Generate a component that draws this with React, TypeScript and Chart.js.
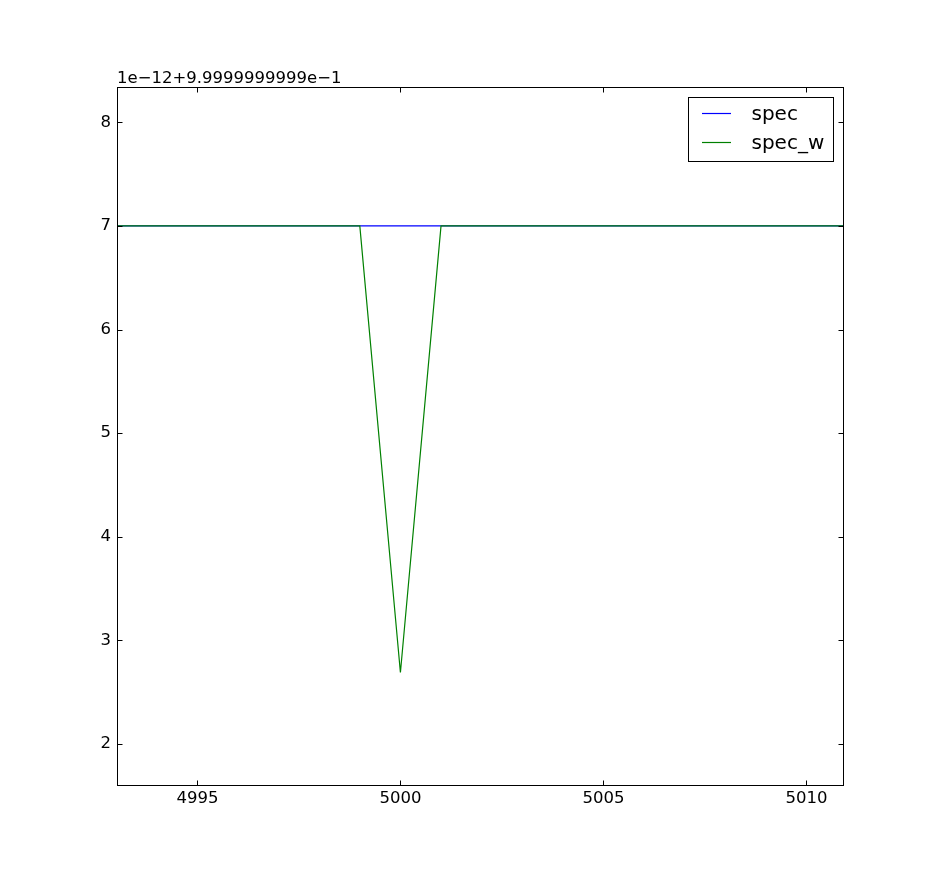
import React, { useEffect, useRef } from "react";
import { Chart, registerables } from "chart.js";

Chart.register(...registerables);

// x positions (wavelength-like samples)
const xValues = [4992, 4993, 4994, 4995, 4996, 4997, 4998, 4999, 5000, 5001, 5002, 5003, 5004, 5005, 5006, 5007, 5008, 5009, 5010, 5011, 5012];
// values shown relative to offset 9.9999999999e-1, in units of 1e-12
const specValues = [7, 7, 7, 7, 7, 7, 7, 7, 7, 7, 7, 7, 7, 7, 7, 7, 7, 7, 7, 7, 7];
const specWValues = [7, 7, 7, 7, 7, 7, 7, 7, 2.69, 7, 7, 7, 7, 7, 7, 7, 7, 7, 7, 7, 7];
const xTicks = [4995, 5000, 5005, 5010];
const yTicks = [2, 3, 4, 5, 6, 7, 8];
const xMin = 4993.02;
const xMax = 5010.9;
const yMin = 1.604;
const yMax = 8.341;
const offsetLabel = "1e\u221212+9.9999999999e\u22121";
const seriesNames = ["spec", "spec_w"];
const seriesColors = ["#0000ff", "#008000"];

const FONT = "'DejaVu Sans', sans-serif";

const framePlugin = {
  id: "framePlugin",
  afterDatasetsDraw(chart: any) {
    const ctx = chart.ctx;
    const a = chart.chartArea;
    const xs = chart.scales.x;
    const ys = chart.scales.y;
    ctx.save();
    ctx.strokeStyle = "#000";
    ctx.lineWidth = 1;
    const L = Math.round(a.left) + 0.5;
    const R = Math.round(a.right) + 0.5;
    const T = Math.round(a.top) + 0.5;
    const B = Math.round(a.bottom) + 0.5;
    ctx.strokeRect(L, T, R - L, B - T);
    const tl = 5;
    ctx.beginPath();
    xTicks.forEach((v) => {
      const px = Math.round(xs.getPixelForValue(v)) + 0.5;
      ctx.moveTo(px, B);
      ctx.lineTo(px, B - tl);
      ctx.moveTo(px, T);
      ctx.lineTo(px, T + tl);
    });
    yTicks.forEach((v) => {
      const py = Math.round(ys.getPixelForValue(v)) + 0.5;
      ctx.moveTo(L, py);
      ctx.lineTo(L + tl, py);
      ctx.moveTo(R, py);
      ctx.lineTo(R - tl, py);
    });
    ctx.stroke();

    // offset text
    ctx.fillStyle = "#000";
    ctx.font = `16.5px ${FONT}`;
    ctx.textAlign = "left";
    ctx.textBaseline = "alphabetic";
    ctx.fillText(offsetLabel, a.left, a.top - 4);

    // legend
    const bx = 688.5, by = 97.5, bw = 145, bh = 64;
    ctx.fillStyle = "#fff";
    ctx.fillRect(bx, by, bw, bh);
    ctx.strokeStyle = "#000";
    ctx.strokeRect(bx, by, bw, bh);
    const rows = [113, 142];
    const baselines = [120, 149];
    seriesNames.forEach((name, i) => {
      ctx.strokeStyle = seriesColors[i];
      ctx.lineWidth = 1.2;
      ctx.beginPath();
      ctx.moveTo(702, rows[i] + 0.5);
      ctx.lineTo(731, rows[i] + 0.5);
      ctx.stroke();
      ctx.fillStyle = "#000";
      ctx.font = `20px ${FONT}`;
      ctx.fillText(name, 751.5, baselines[i]);
    });
    ctx.restore();
  },
};

export default function App() {
  const ref = useRef<HTMLCanvasElement>(null);
  useEffect(() => {
    if (!ref.current) return;
    const chart = new Chart(ref.current, {
      type: "line",
      data: {
        datasets: [
          {
            label: seriesNames[0],
            data: xValues.map((x, i) => ({ x, y: specValues[i] })),
            borderColor: seriesColors[0],
            borderWidth: 1.2,
            pointRadius: 0,
            tension: 0,
            fill: false,
            order: 2,
          },
          {
            label: seriesNames[1],
            data: xValues.map((x, i) => ({ x, y: specWValues[i] })),
            borderColor: seriesColors[1],
            borderWidth: 1.2,
            pointRadius: 0,
            tension: 0,
            fill: false,
            order: 1,
          },
        ],
      },
      options: {
        responsive: false,
        animation: false,
        events: [],
        layout: { padding: { top: 87, right: 93, left: 0, bottom: 0 } },
        plugins: { legend: { display: false }, tooltip: { enabled: false }, title: { display: false } },
        scales: {
          x: {
            type: "linear",
            min: xMin,
            max: xMax,
            grid: { display: false, drawTicks: false },
            border: { display: false },
            afterBuildTicks: (s: any) => {
              s.ticks = xTicks.map((v) => ({ value: v }));
            },
            afterFit: (s: any) => {
              s.height = 87;
            },
            ticks: {
              color: "#000",
              padding: 4,
              maxRotation: 0,
              autoSkip: false,
              font: { family: FONT, size: 16.5 },
              callback: (v: any) => String(v),
            },
          },
          y: {
            type: "linear",
            min: yMin,
            max: yMax,
            grid: { display: false, drawTicks: false },
            border: { display: false },
            afterBuildTicks: (s: any) => {
              s.ticks = yTicks.map((v) => ({ value: v }));
            },
            afterFit: (s: any) => {
              s.width = 117;
            },
            ticks: {
              color: "#000",
              padding: 6,
              autoSkip: false,
              font: { family: FONT, size: 16.5 },
              callback: (v: any) => String(v),
            },
          },
        },
      },
      plugins: [framePlugin],
    });
    return () => chart.destroy();
  }, []);
  return (
    <div style={{ position: "absolute", left: 0, top: 0, width: 936, height: 872, background: "#fff" }}>
      <canvas ref={ref} width={936} height={872} />
    </div>
  );
}
